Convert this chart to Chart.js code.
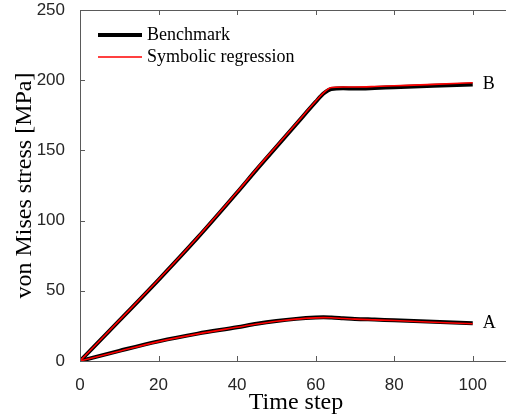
<!DOCTYPE html>
<html>
<head>
<meta charset="utf-8">
<script src="https://cdn.jsdelivr.net/npm/chart.js@4/dist/chart.umd.min.js"></script>
<style>
  html, body { margin: 0; padding: 0; background: #fff; overflow: hidden; }
  #wrap { position: absolute; left: 0; top: 0; width: 520px; height: 419px; }
</style>
</head>
<body>
<div id="wrap"><canvas id="stress" width="520" height="419"></canvas></div>
<script>
// time steps shared by every curve
const timeSteps = [0, 10, 20, 30, 40, 45, 50, 55, 60, 62, 64, 67, 70, 75, 80, 90, 100];

// point B
const benchB = [0, 28.7, 57.8, 88, 120, 136.5, 152.5, 168.5, 184.5, 190.5, 193.8, 194.2, 194, 194.4, 195, 196, 197];
const symregB = [0, 28.9, 58, 88.3, 120.3, 137, 153, 169, 185, 191, 194.8, 195.2, 195.2, 195.5, 196, 197, 198.2];

// point A
const benchA = [0, 7.2, 14, 19.5, 24, 26.5, 28.5, 30, 31, 31.2, 31, 30.5, 30, 29.5, 29, 28, 26.8];
const symregA = [0, 7, 13.8, 19.3, 24, 26.3, 28.3, 29.8, 30.7, 30.9, 30.8, 30.3, 29.8, 29.3, 28.8, 27.6, 26.5];

const xTicks = [0, 20, 40, 60, 80, 100];
const yTicks = [0, 50, 100, 150, 200, 250];
const legendLabels = ['Benchmark', 'Symbolic regression'];
const pointLabels = ['A', 'B'];

const serif = '"Liberation Serif", "Times New Roman", serif';
const sans = '"Liberation Sans", Arial, sans-serif';

function pts(values) {
    return timeSteps.map((t, i) => ({ x: t, y: values[i] }));
}

function bench(values) {
    return { data: pts(values), borderColor: '#000', borderWidth: 4, pointRadius: 0,
             cubicInterpolationMode: 'monotone', order: 2 };
}

function symreg(values) {
    return { data: pts(values), borderColor: '#ff0000', borderWidth: 1.6, pointRadius: 0,
             cubicInterpolationMode: 'monotone', order: 1 };
}

// MATLAB-style box with ticks pointing inwards
const axesBox = {
    id: 'axesBox',
    afterDatasetsDraw(chart) {
        const { ctx, chartArea: a, scales: { x, y } } = chart;
        ctx.save();
        ctx.strokeStyle = '#5a5a5a';
        ctx.lineWidth = 1;
        ctx.beginPath();
        ctx.rect(Math.round(a.left) + 0.5, Math.round(a.top) + 0.5,
                 Math.round(a.right - a.left), Math.round(a.bottom - a.top));
        xTicks.forEach(v => {
            const px = Math.round(x.getPixelForValue(v)) + 0.5;
            ctx.moveTo(px, a.bottom); ctx.lineTo(px, a.bottom - 5);
            ctx.moveTo(px, a.top); ctx.lineTo(px, a.top + 5);
        });
        yTicks.forEach(v => {
            const py = Math.round(y.getPixelForValue(v)) + 0.5;
            ctx.moveTo(a.left, py); ctx.lineTo(a.left + 5, py);
            ctx.moveTo(a.right, py); ctx.lineTo(a.right - 5, py);
        });
        ctx.stroke();
        ctx.restore();
    }
};

// legend inside the axes plus the A / B markers at the curve ends
const annotations = {
    id: 'annotations',
    afterDraw(chart) {
        const { ctx, chartArea: a } = chart;
        ctx.save();
        const lx = a.left + 18;
        const rows = [
            { y: a.top + 25, color: '#000', width: 4 },
            { y: a.top + 47, color: '#ff0000', width: 1.6 }
        ];
        ctx.font = '18px ' + serif;
        ctx.textBaseline = 'middle';
        ctx.fillStyle = '#000';
        rows.forEach((r, i) => {
            ctx.strokeStyle = r.color;
            ctx.lineWidth = r.width;
            ctx.beginPath();
            ctx.moveTo(lx, r.y); ctx.lineTo(lx + 44, r.y);
            ctx.stroke();
            ctx.fillText(legendLabels[i], lx + 49, r.y);
        });
        // dataset 0 is A benchmark, dataset 1 is B benchmark
        [0, 1].forEach(i => {
            const last = chart.getDatasetMeta(i).data.at(-1);
            ctx.fillText(pointLabels[i], last.x + 10, last.y);
        });
        ctx.restore();
    }
};

new Chart(document.getElementById('stress'), {
    type: 'line',
    data: {
        datasets: [bench(benchA), bench(benchB), symreg(symregA), symreg(symregB)]
    },
    options: {
        responsive: false,
        animation: false,
        layout: { padding: { left: 0, top: 10, right: 8, bottom: 0 } },
        plugins: { legend: { display: false }, tooltip: { enabled: false } },
        scales: {
            x: {
                type: 'linear',
                min: 0, max: 110,
                afterFit: s => { s.height = 58; s.paddingLeft = 0; s.paddingRight = 0; },
                grid: { display: false },
                border: { display: false },
                ticks: {
                    stepSize: 20, includeBounds: false, maxRotation: 0, padding: 6,
                    color: '#262626', font: { family: sans, size: 17 }
                },
                title: {
                    display: true, text: 'Time step', color: '#000',
                    font: { family: serif, size: 24 }, padding: { top: 0, bottom: 2 }
                }
            },
            y: {
                min: 0, max: 250,
                afterFit: s => { s.width = 80; s.paddingTop = 0; s.paddingBottom = 0; },
                grid: { display: false },
                border: { display: false },
                ticks: {
                    stepSize: 50, padding: 7,
                    color: '#262626', font: { family: sans, size: 17 }
                },
                title: {
                    display: true, text: 'von Mises stress [MPa]', color: '#000',
                    font: { family: serif, size: 24 }, padding: { top: 10, bottom: 0 }
                }
            }
        }
    },
    plugins: [axesBox, annotations]
});
</script>
</body>
</html>
